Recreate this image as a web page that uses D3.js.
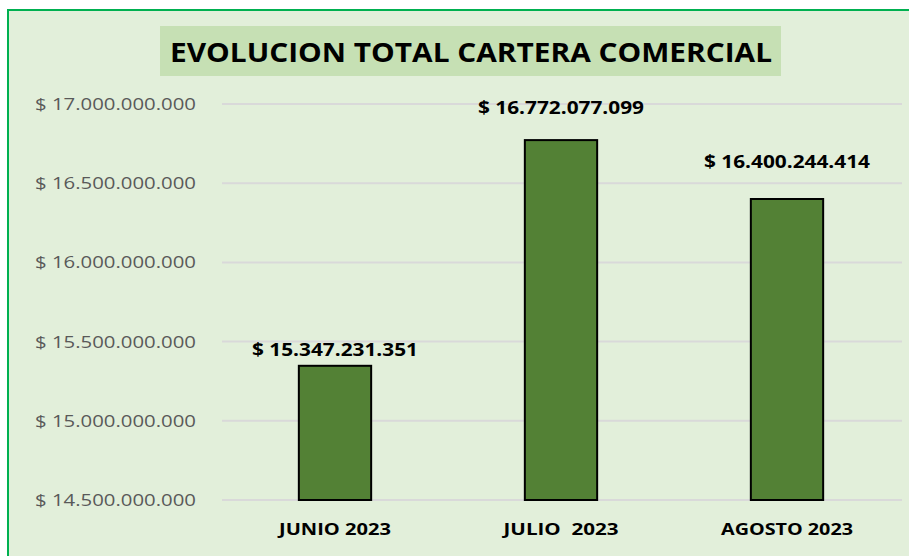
<!DOCTYPE html>
<html>
<head>
<meta charset="utf-8">
<script src="https://cdn.jsdelivr.net/npm/d3@7"></script>
<style>
  body { margin: 0; background: #fff; }
  text { font-family: "Open Sans", "Liberation Sans", sans-serif; }
</style>
</head>
<body>
<script>
const w = 909;
const h = 556;

// data
const months = ["JUNIO 2023", "JULIO  2023", "AGOSTO 2023"];
const totals = [15347231351, 16772077099, 16400244414];
const yTicks = [14500000000, 15000000000, 15500000000, 16000000000, 16500000000, 17000000000];
const title = "EVOLUCION TOTAL CARTERA COMERCIAL";

// label nudges (Excel labels were dragged by hand)
const labelDy = [-10, -26, -31];

const fmt = v => "$ " + d3.format(",")(v).replace(/,/g, ".");

const svg = d3.select("body").append("svg")
  .attr("width", w)
  .attr("height", h);

// chart area + green frame
svg.append("rect")
  .attr("x", 8).attr("y", 10)
  .attr("width", w).attr("height", h)
  .attr("fill", "#e2efda")
  .attr("stroke", "#00b050")
  .attr("stroke-width", 2);

// title box
svg.append("rect")
  .attr("x", 160).attr("y", 26)
  .attr("width", 621).attr("height", 50)
  .attr("fill", "#c6e0b4");

svg.append("text")
  .attr("x", 471).attr("y", 62)
  .attr("text-anchor", "middle")
  .attr("font-weight", "bold")
  .attr("font-size", 27)
  .attr("textLength", 602)
  .attr("lengthAdjust", "spacingAndGlyphs")
  .attr("fill", "#000")
  .text(title);

const x = d3.scaleBand()
  .domain(months)
  .range([222, 900])
  .paddingInner(0.68)
  .paddingOuter(0.34);

const y = d3.scaleLinear()
  .domain([14500000000, 17000000000])
  .range([500, 104]);

// gridlines
svg.append("g")
  .selectAll("line")
  .data(yTicks)
  .enter()
  .append("line")
  .attr("x1", 222).attr("x2", 902)
  .attr("y1", d => y(d)).attr("y2", d => y(d))
  .attr("stroke", "#d9d9d9")
  .attr("stroke-width", 2);

// y axis labels
const yAxis = svg.append("g")
  .attr("transform", "translate(35,0)")
  .call(d3.axisLeft(y).tickValues(yTicks).tickSize(0).tickFormat(fmt));
yAxis.select(".domain").remove();
yAxis.selectAll("text")
  .attr("x", 0)
  .attr("text-anchor", "start")
  .attr("fill", "#595959")
  .attr("font-size", 17)
  .attr("textLength", 161)
  .attr("lengthAdjust", "spacingAndGlyphs");

// bars
svg.append("g")
  .selectAll("rect")
  .data(totals)
  .enter()
  .append("rect")
  .attr("x", (d, i) => x(months[i]))
  .attr("y", d => y(d))
  .attr("width", x.bandwidth())
  .attr("height", d => y(14500000000) - y(d))
  .attr("fill", "#538135")
  .attr("stroke", "#000")
  .attr("stroke-width", 2);

// value labels
svg.append("g")
  .selectAll("text")
  .data(totals)
  .enter()
  .append("text")
  .attr("x", (d, i) => x(months[i]) + x.bandwidth() / 2)
  .attr("y", (d, i) => y(d) + labelDy[i])
  .attr("text-anchor", "middle")
  .attr("font-weight", "bold")
  .attr("font-size", 18)
  .attr("textLength", 166)
  .attr("lengthAdjust", "spacingAndGlyphs")
  .attr("fill", "#000")
  .text(fmt);

// x axis labels
const xAxis = svg.append("g")
  .attr("transform", "translate(0,500)")
  .call(d3.axisBottom(x).tickSize(0));
xAxis.select(".domain").remove();
xAxis.selectAll("text")
  .attr("y", 24)
  .attr("font-weight", "bold")
  .attr("font-size", 16)
  .attr("fill", "#000")
  .style("white-space", "pre")
  .attr("textLength", (d, i) => [112, 115, 132][i])
  .attr("lengthAdjust", "spacingAndGlyphs");
</script>
</body>
</html>
